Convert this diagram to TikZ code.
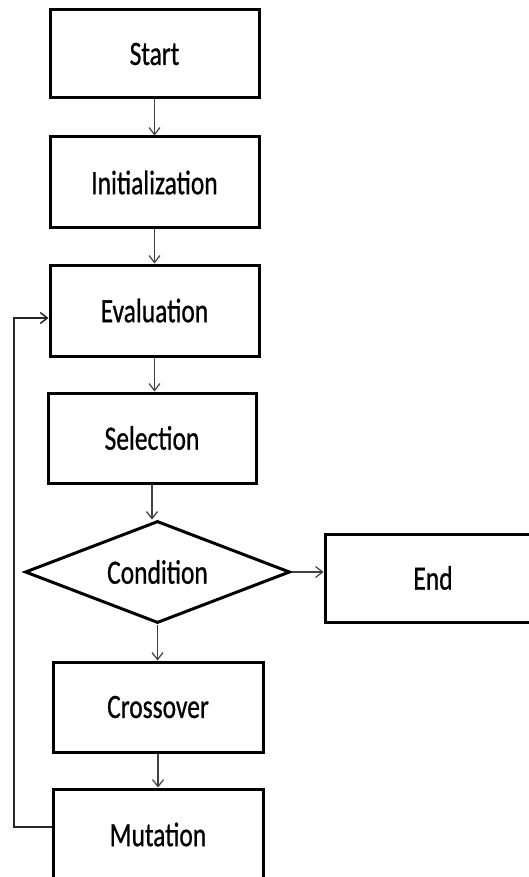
\documentclass[tikz,border=0pt]{standalone}
\usepackage{fontspec}
\setmainfont{Carlito}
\newfontfamily\heavyfont[FakeBold=0.8]{Carlito}
\usetikzlibrary{shapes.geometric,arrows.meta}
\begin{document}
\begin{tikzpicture}[x=1pt,y=-1pt,
  box/.style={draw=black,line width=3pt,rectangle,inner sep=0pt,font=\heavyfont\fontsize{34}{38}\selectfont},
  dec/.style={draw=black,line width=3pt,diamond,aspect=2.6,inner sep=0pt,minimum width=265pt,minimum height=102pt,font=\heavyfont\fontsize{34}{38}\selectfont},
  flow/.style={draw=black!75,line width=1.2pt,-{Straight Barb[length=7pt,width=11pt,line width=1.2pt]}},
  back/.style={draw=black!85,line width=1.5pt,-{Straight Barb[length=7pt,width=11pt,line width=1.5pt]}}
]
\clip (0,0) rectangle (529,877);
\fill[white] (0,0) rectangle (529,877);
\newcommand{\sq}[1]{\raisebox{-2pt}{\scalebox{0.75}[1]{#1}}}
\node[box,minimum width=209pt,minimum height=88pt] (start) at (154.5,54) {\sq{Start}};
\node[box,minimum width=209pt,minimum height=91pt] (init) at (154.5,182.5) {\sq{Initialization}};
\node[box,minimum width=209pt,minimum height=91pt] (eval) at (154.5,310.5) {\sq{Evaluation}};
\node[box,minimum width=208pt,minimum height=90pt] (sel) at (152,438) {\sq{Selection}};
\node[dec] (cond) at (157.5,572) {\sq{Condition}};
\node[box,minimum width=216pt,minimum height=88pt] (end) at (433,578) {\sq{End}};
\node[box,minimum width=210pt,minimum height=90pt] (cross) at (158,707) {\sq{Crossover}};
\node[box,minimum width=210pt,minimum height=91pt] (mut) at (158,834.5) {\sq{Mutation}};
\coordinate (fbl) at (14,827);
\coordinate (fbt) at (14,318);
\draw[flow] (start.south) -- (start.south |- init.north);
\draw[flow] (init.south) -- (init.south |- eval.north);
\draw[flow] (eval.south) -- (eval.south |- sel.north);
\draw[flow] (sel.south) -- (sel.south |- cond.north);
\draw[flow] (cond.east) -- (cond.east -| end.west);
\draw[flow] (cond.south) -- (cond.south |- cross.north);
\draw[flow] (cross.south) -- (cross.south |- mut.north);
\draw[back] (mut.west |- fbl) -- (fbl) -- (fbt) -- (fbt -| eval.west);
\end{tikzpicture}
\end{document}
